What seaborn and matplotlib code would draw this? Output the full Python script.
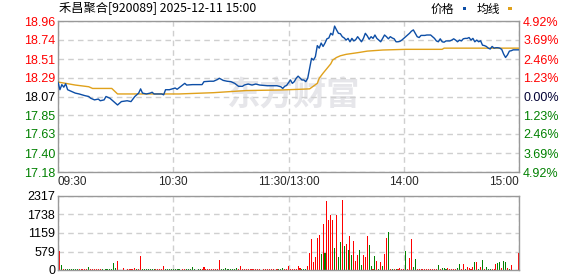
import numpy as np
import pandas as pd
import matplotlib
matplotlib.use("Agg")
import matplotlib.pyplot as plt
from matplotlib.patches import Rectangle
import seaborn as sns

sns.set_theme(style="white")
plt.rcParams['font.family'] = ['Noto Sans CJK SC', 'DejaVu Sans']

# ---------------- data ----------------
title = "禾昌聚合[920089] 2025-12-11 15:00"
prev_close = 18.07
price_ticks = [18.96, 18.74, 18.51, 18.29, 18.07, 17.85, 17.63, 17.40, 17.18]
pct_labels = ["4.92%", "3.69%", "2.46%", "1.23%", "0.00%", "1.23%", "2.46%", "3.69%", "4.92%"]
vol_ticks = [0, 579, 1159, 1738, 2317]
time_ticks = [0, 60, 120, 180, 240]
time_labels = ["09:30", "10:30", "11:30/13:00", "14:00", "15:00"]

price_t = [0, 1, 2, 3, 4, 5, 7, 9, 11, 14, 16, 17, 19, 21, 22, 24, 25, 27, 29, 30,
           31, 33, 36, 38, 40, 42, 43, 44, 46, 48, 49, 50, 54, 55, 56, 58, 61, 62, 64, 66,
           67, 70, 75, 76, 79, 81, 83, 84, 86, 88, 90, 92, 94, 96, 97, 99, 101, 103, 105, 109,
           114, 116, 117, 118, 119, 121, 122, 123, 124, 125, 127, 128, 129, 130,
           131, 132, 133, 134, 135, 136, 137, 138, 139, 140, 141, 142, 143, 144, 145, 146,
           147, 148, 149, 150, 151, 152, 153, 154, 155, 156, 157, 158, 159, 160, 161, 162,
           163, 164, 165, 166, 167, 168, 169, 170, 171, 172, 173, 174, 175, 176, 177, 178,
           179, 180, 181, 182, 183, 184, 185, 186, 187, 188, 189, 190, 191, 192, 193, 194,
           195, 196, 197, 198, 199, 200, 201, 202, 203, 204, 205, 206, 207, 208, 209, 210,
           211, 212, 213, 214, 215, 216, 217, 218, 219, 220, 221, 222, 223, 224, 225, 226,
           227, 228, 229, 230, 231, 232, 233, 234, 235, 236, 237, 238, 239, 240]
price_v = [18.24, 18.15, 18.21, 18.18, 18.22, 18.15, 18.13, 18.11, 18.10, 18.08, 18.07, 18.05,
           18.03, 18.04, 18.02, 18.03, 18.07, 18.05, 18.01, 17.99,
           17.97, 18.01, 18.02, 18.01, 18.07, 18.11, 18.16, 18.11, 18.10, 18.11, 18.12, 18.10,
           18.10, 18.09, 18.15, 18.15, 18.17, 18.155, 18.19, 18.225,
           18.205, 18.21, 18.21, 18.245, 18.25, 18.25, 18.27, 18.285, 18.26, 18.25, 18.245, 18.225,
           18.19, 18.19, 18.205, 18.217, 18.205, 18.217, 18.205, 18.197,
           18.197, 18.185, 18.165, 18.19, 18.20, 18.265, 18.225, 18.245, 18.285, 18.31, 18.265,
           18.265, 18.245, 18.285,
           18.40, 18.52, 18.50, 18.54, 18.67, 18.64, 18.70, 18.66, 18.70, 18.75, 18.76, 18.815,
           18.795, 18.90, 18.855, 18.815,
           18.81, 18.775, 18.76, 18.735, 18.755, 18.715, 18.755, 18.725, 18.74, 18.775, 18.745,
           18.715, 18.755, 18.815, 18.785, 18.745,
           18.775, 18.755, 18.795, 18.755, 18.735, 18.715, 18.755, 18.795, 18.775, 18.75, 18.775,
           18.76, 18.75, 18.715, 18.715, 18.72,
           18.735, 18.755, 18.775, 18.795, 18.815, 18.84, 18.855, 18.815, 18.775, 18.765, 18.79,
           18.79, 18.79, 18.795, 18.795, 18.795,
           18.775, 18.755, 18.725, 18.715, 18.75, 18.715, 18.71, 18.725, 18.725, 18.725, 18.735,
           18.75, 18.735, 18.715, 18.735, 18.725,
           18.75, 18.755, 18.755, 18.765, 18.735, 18.755, 18.715, 18.735, 18.715, 18.727, 18.675,
           18.67, 18.66, 18.64, 18.63, 18.66,
           18.64, 18.645, 18.645, 18.64, 18.625, 18.57, 18.53, 18.56, 18.605, 18.61, 18.62,
           18.62, 18.62, 18.62]

avg_t = [0, 4, 9, 16, 18, 28, 31, 63, 81, 98, 116, 126, 131, 135, 136, 138, 140, 142, 143,
         145, 147, 150, 154, 157, 161, 169, 181, 200, 201, 240]
avg_v = [18.24, 18.225, 18.205, 18.185, 18.165, 18.165, 18.10, 18.10, 18.115, 18.14, 18.147,
         18.155, 18.16, 18.225, 18.285, 18.345, 18.40, 18.455, 18.50, 18.53, 18.55, 18.567,
         18.58, 18.59, 18.605, 18.618, 18.626, 18.626, 18.64, 18.64]

vol = [0, 610, 160, 30, 30, 30, 30, 30, 30, 30,
       30, 30, 30, 30, 30, 30, 100, 30, 30, 30,
       30, 30, 30, 30, 0, 30, 30, 30, 30, 225,
       65, 290, 0, 0, 65, 0, 30, 30, 30, 30,
       65, 30, 30, 430, 30, 30, 30, 30, 30, 30,
       30, 30, 30, 30, 30, 130, 30, 30, 30, 30,
       30, 30, 30, 30, 0, 30, 30, 30, 30, 30,
       100, 30, 0, 30, 30, 30, 100, 30, 30, 30,
       30, 30, 30, 30, 320, 30, 30, 65, 30, 30,
       30, 30, 30, 65, 30, 130, 30, 30, 30, 30,
       30, 30, 30, 30, 30, 30, 0, 30, 30, 30,
       30, 30, 30, 0, 30, 30, 30, 65, 30, 30,
       130, 30, 30, 30, 30, 130, 65, 30, 30, 30,
       130, 545, 965, 255, 415, 1005, 1090, 515, 1445, 545,
       2150, 1550, 1735, 1575, 675, 1735, 415, 865, 2195, 740,
       800, 640, 1060, 480, 900, 290, 480, 640, 160, 480,
       415, 1060, 770, 130, 30, 450, 290, 30, 255, 130,
       515, 995, 1190, 30, 30, 30, 30, 30, 65, 30,
       30, 610, 30, 385, 965, 100, 355, 30, 30, 30,
       30, 30, 30, 30, 30, 30, 30, 30, 160, 30,
       65, 65, 30, 65, 30, 30, 30, 30, 65, 190,
       30, 190, 30, 100, 65, 30, 100, 255, 255, 30,
       100, 320, 30, 100, 30, 30, 30, 30, 190, 225,
       255, 65, 290, 255, 65, 30, 160, 0, 0, 0,
       545]
vol_dir = ("rrgrgggggg" "grrrrrgrrr" "rrrggggggg" "grrrrrrrrr" "rgrrgggggg"
           "grrrrrgggg" "gggggrrggg" "gggggrrrrr" "rrrrrggggg" "ggggrrrrrr"
           "rrrrrrrrrr" "rrrrrgggrr" "rrrrrrrggg" "rrrrrrrgrg" "rrrrgrggrg"
           "rgrgrrrggr" "rrggrgrgrg" "rrgrgrgrrr" "rgrrrggrrr" "rrrrrrrrgr"
           "gggrrrrrgg" "rrgrrrrgrg" "rgrgggrrrg" "grggrgrrrr" "r")

# ---------------- style ----------------
BLUE = "#0d4ea6"
ORANGE = "#e0a11b"
RED = "#ff0000"
GREEN = "#008000"
GRID = "#cfcfcf"
SPINE = "#999999"
NUMFONT = "Liberation Sans"

W, H = 578, 276
fig = plt.figure(figsize=(W / 100, H / 100), dpi=100)
ax = fig.add_axes([58 / W, 1 - 172 / H, 461 / W, 151 / H])
axv = fig.add_axes([58 / W, 1 - 270 / H, 461 / W, 74 / H])

# watermark
ax.text(122, 18.07, "东方财富", fontsize=24, color="#e6e6ea", fontweight="bold",
        ha="center", va="center", zorder=0.5, family=['Noto Sans CJK SC'])

df_p = pd.DataFrame({"t": price_t, "p": price_v})
df_a = pd.DataFrame({"t": avg_t, "p": avg_v})
sns.lineplot(data=df_a, x="t", y="p", ax=ax, color=ORANGE, lw=1.0, sort=False,
             estimator=None, zorder=3)
sns.lineplot(data=df_p, x="t", y="p", ax=ax, color=BLUE, lw=1.0, sort=False,
             estimator=None, zorder=4)

ax.set_xlim(0, 240)
ax.set_ylim(price_ticks[-1], price_ticks[0])
ax.set_xlabel("")
ax.set_ylabel("")
ax.set_yticks(price_ticks)
ax.set_yticklabels([f"{v:.2f}" for v in price_ticks], fontsize=9, family=NUMFONT)
for lbl, v in zip(ax.get_yticklabels(), price_ticks):
    lbl.set_color(RED if v > prev_close + 1e-9 else (GREEN if v < prev_close - 1e-9 else "black"))
ax.set_xticks(time_ticks)
ax.set_xticklabels(time_labels, fontsize=8.5, family=NUMFONT)
xl = ax.get_xticklabels()
xl[0].set_ha("left")
xl[-1].set_ha("right")
ax.tick_params(axis="both", length=0, pad=2)
ax.tick_params(axis="x", pad=3)
ax.grid(True, color=GRID, linestyle=(0, (4, 3)), lw=1.0)
for s in ax.spines.values():
    s.set_color(SPINE)
    s.set_linewidth(1.0)

ax2 = ax.twinx()
ax2.set_position(ax.get_position())
ax2.set_ylim(price_ticks[-1], price_ticks[0])
ax2.set_yticks(price_ticks)
ax2.set_yticklabels(pct_labels, fontsize=9, family=NUMFONT)
for lbl, v in zip(ax2.get_yticklabels(), price_ticks):
    lbl.set_color(RED if v > prev_close + 1e-9 else (GREEN if v < prev_close - 1e-9 else "#000033"))
ax2.tick_params(axis="y", length=0, pad=3)
ax2.grid(False)
for s in ax2.spines.values():
    s.set_visible(False)

# volume
df_v = pd.DataFrame({"t": np.arange(len(vol)), "v": vol, "c": list(vol_dir)})
sns.barplot(data=df_v, x="t", y="v", hue="c", palette={"r": RED, "g": GREEN},
            native_scale=True, dodge=False, width=0.55, linewidth=0, errorbar=None,
            legend=False, saturation=1, ax=axv)
for p in axv.patches:
    p.set_antialiased(False)
axv.set_xlim(0, 240)
axv.set_ylim(0, vol_ticks[-1])
axv.set_xlabel("")
axv.set_ylabel("")
axv.set_yticks(vol_ticks)
axv.set_yticklabels([str(v) for v in vol_ticks], fontsize=9, family=NUMFONT, color="black")
axv.set_xticks(time_ticks)
axv.set_xticklabels([])
axv.tick_params(axis="both", length=0, pad=2)
axv.grid(True, color=GRID, linestyle=(0, (4, 3)), lw=1.0)
axv.set_axisbelow(True)
for s in axv.spines.values():
    s.set_color(SPINE)
    s.set_linewidth(1.0)

# title and legend
fig.text(59 / W, 1 - 9 / H, title, fontsize=8.8, ha="left", va="center", color="black")
fig.text(454 / W, 1 - 9 / H, "价格", fontsize=8.5, ha="right", va="center", color="black")
fig.add_artist(Rectangle((463 / W, 1 - 10 / H), 3.5 / W, 3 / H, transform=fig.transFigure,
                         color=BLUE, lw=0))
fig.text(500 / W, 1 - 9 / H, "均线", fontsize=8.5, ha="right", va="center", color="black")
fig.add_artist(Rectangle((508 / W, 1 - 10 / H), 3.5 / W, 3 / H, transform=fig.transFigure,
                         color=ORANGE, lw=0))

fig.savefig("out.png", dpi=100)
